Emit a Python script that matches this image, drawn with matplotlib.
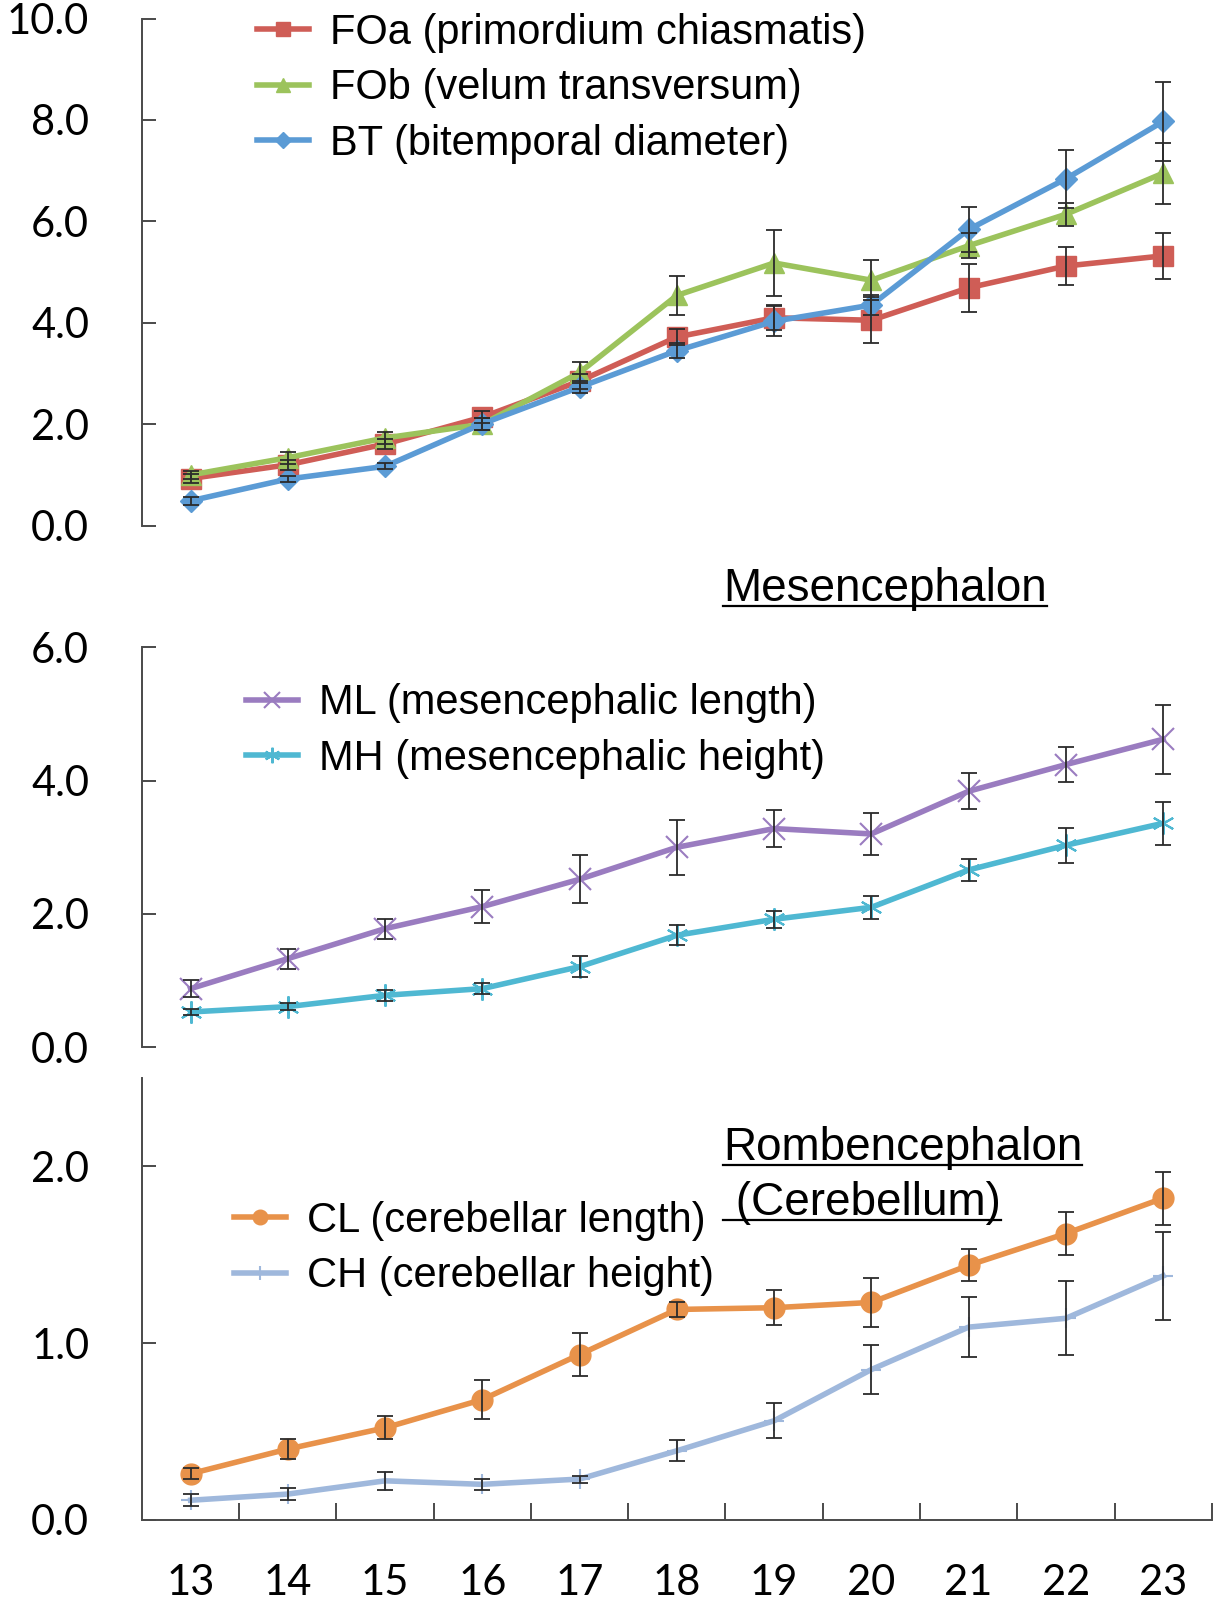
import matplotlib.pyplot as plt
from matplotlib.lines import Line2D
import numpy as np

weeks = [13, 14, 15, 16, 17, 18, 19, 20, 21, 22, 23]

# top panel: optic structures / bitemporal diameter
foa = [0.93, 1.20, 1.61, 2.14, 2.85, 3.72, 4.10, 4.05, 4.69, 5.12, 5.32]
foa_err = [0.08, 0.10, 0.10, 0.12, 0.15, 0.15, 0.25, 0.45, 0.47, 0.37, 0.45]
fob = [1.00, 1.34, 1.73, 2.00, 3.02, 4.54, 5.18, 4.84, 5.52, 6.14, 6.95]
fob_err = [0.08, 0.12, 0.12, 0.12, 0.20, 0.38, 0.65, 0.40, 0.25, 0.23, 0.60]
bt = [0.49, 0.92, 1.17, 2.01, 2.73, 3.45, 4.03, 4.35, 5.84, 6.84, 7.97]
bt_err = [0.08, 0.06, 0.06, 0.12, 0.12, 0.15, 0.30, 0.20, 0.45, 0.57, 0.77]

# middle panel: mesencephalon
ml = [0.88, 1.33, 1.78, 2.11, 2.52, 3.00, 3.28, 3.20, 3.84, 4.24, 4.62]
ml_err = [0.13, 0.15, 0.15, 0.25, 0.36, 0.41, 0.28, 0.32, 0.27, 0.26, 0.52]
mh = [0.53, 0.61, 0.78, 0.88, 1.21, 1.68, 1.92, 2.10, 2.66, 3.03, 3.36]
mh_err = [0.05, 0.05, 0.08, 0.08, 0.16, 0.15, 0.13, 0.17, 0.16, 0.26, 0.32]

# bottom panel: cerebellum
cl = [0.26, 0.40, 0.52, 0.68, 0.935, 1.19, 1.20, 1.23, 1.44, 1.62, 1.82]
cl_err = [0.03, 0.055, 0.065, 0.11, 0.12, 0.04, 0.10, 0.14, 0.09, 0.12, 0.15]
ch = [0.11, 0.145, 0.22, 0.20, 0.23, 0.39, 0.56, 0.85, 1.09, 1.14, 1.38]
ch_err = [0.035, 0.035, 0.05, 0.03, 0.02, 0.06, 0.10, 0.14, 0.17, 0.21, 0.25]

TICKFONT = 'Lato'
TEXTFONT = 'Liberation Sans'
AXCOL = '#4a4a4a'

fig = plt.figure(figsize=(12.24, 16.10), dpi=100)
ax1 = fig.add_axes([0.116, 0.6735, 0.874, 0.315])
ax2 = fig.add_axes([0.116, 0.3495, 0.874, 0.2485])
ax3 = fig.add_axes([0.116, 0.0561, 0.874, 0.2743])


def style(ax, ymax, yticks, bottom=False):
    ax.set_xlim(12.5, 23.5)
    ax.set_ylim(0, ymax)
    ax.spines['top'].set_visible(False)
    ax.spines['right'].set_visible(False)
    ax.spines['left'].set_color(AXCOL)
    ax.spines['left'].set_linewidth(1.4)
    ax.set_yticks(yticks)
    ax.set_yticklabels([f'{v:.1f}' for v in yticks], fontfamily=TICKFONT)
    ax.tick_params(axis='y', direction='in', length=10, width=1.4,
                   color=AXCOL, pad=38, labelsize=30)
    if bottom:
        ax.spines['bottom'].set_color(AXCOL)
        ax.spines['bottom'].set_linewidth(1.4)
        ax.set_xticks(weeks)
        ax.set_xticklabels([str(w) for w in weeks], fontfamily=TICKFONT)
        ax.set_xticks(np.arange(13.5, 24, 1), minor=True)
        ax.tick_params(axis='x', which='major', length=0, pad=32, labelsize=30)
        ax.tick_params(axis='x', which='minor', direction='in', length=12,
                       width=1.4, color=AXCOL)
    else:
        ax.spines['bottom'].set_visible(False)
        ax.set_xticks([])


def series(ax, y, err, color, marker, ms, label, mew=1.0):
    ax.errorbar(weeks, y, yerr=err, fmt='none', ecolor='#2b2b2b',
                elinewidth=1.3, capsize=6, capthick=1.3, zorder=3)
    ax.plot(weeks, y, color=color, lw=4, marker=marker, ms=ms,
            mec=color, mfc=color, mew=mew, label=label, zorder=2)


series(ax1, foa, foa_err, '#cf5d56', 's', 14, 'FOa (primordium chiasmatis)')
series(ax1, fob, fob_err, '#9cc35c', '^', 14, 'FOb (velum transversum)')
series(ax1, bt, bt_err, '#5b9bd5', 'D', 11, 'BT (bitemporal diameter)')
style(ax1, 10, [0, 2, 4, 6, 8, 10])

series(ax2, ml, ml_err, '#9a7cc0', 'x', 16, 'ML (mesencephalic length)', mew=1.5)
series(ax2, mh, mh_err, '#4fb8d2', (6, 2, 0), 16, 'MH (mesencephalic height)', mew=1.5)
style(ax2, 6, [0, 2, 4, 6])

series(ax3, cl, cl_err, '#e8924a', 'o', 15, 'CL (cerebellar length)')
series(ax3, ch, ch_err, '#9fb8dc', '+', 14, 'CH (cerebellar height)', mew=1.5)
style(ax3, 2.5, [0, 1, 2], bottom=True)

leg_kw = dict(frameon=False, prop={'family': TEXTFONT, 'size': 30},
              handlelength=1.25, handletextpad=0.5, labelspacing=0.37,
              borderpad=0, borderaxespad=0, markerscale=0.7,
              loc='upper left')
ax1.legend(bbox_to_anchor=(0.2097, 0.992), bbox_transform=fig.transFigure, **leg_kw)
ax2.legend(bbox_to_anchor=(0.201, 0.5755), bbox_transform=fig.transFigure, **leg_kw)
ax3.legend(bbox_to_anchor=(0.191, 0.254), bbox_transform=fig.transFigure, **leg_kw)

# underlined section titles
titles = [
    ('Mesencephalon', 0.5906, 0.6269),
    ('Rombencephalon', 0.5906, 0.2793),
    (' (Cerebellum)', 0.5906, 0.2455),
]
texts = []
for s, x, y in titles:
    t = fig.text(x, y, s, fontsize=33, family=TEXTFONT, va='baseline', ha='left')
    texts.append((t, x, y))

fig.canvas.draw()
W, H = fig.canvas.get_width_height()
for t, x, y in texts:
    bb = t.get_window_extent()
    uy = y - 5 / H
    fig.add_artist(Line2D([bb.x0 / W, bb.x1 / W], [uy, uy],
                          transform=fig.transFigure, color='black', lw=1.6))

fig.savefig('out.png', dpi=100)
